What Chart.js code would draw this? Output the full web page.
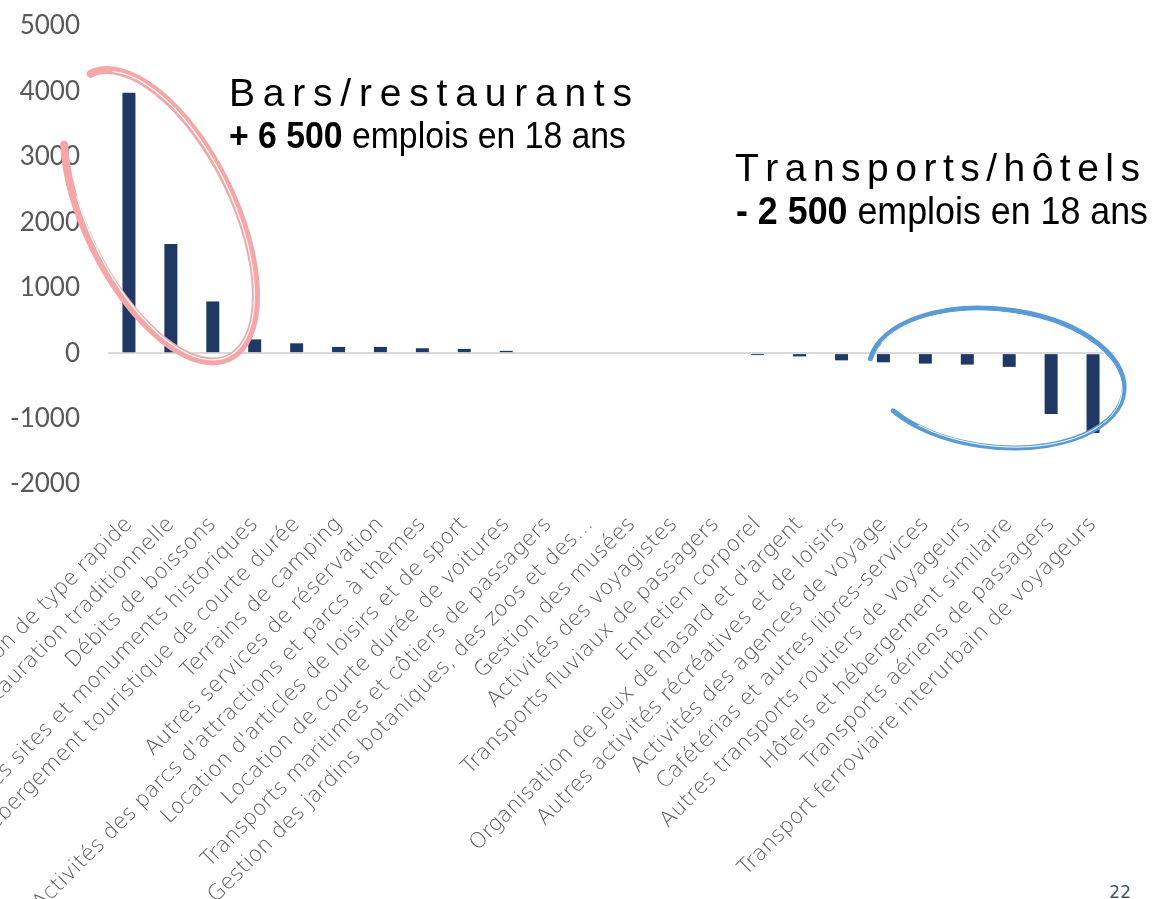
<!DOCTYPE html>
<html><head><meta charset="utf-8">
<style>html,body{margin:0;padding:0;background:#fff;overflow:hidden}#wrap{position:relative;width:1152px;height:899px}</style>
<script src="https://cdn.jsdelivr.net/npm/chart.js@4.4.1/dist/chart.umd.min.js"></script>
</head><body><div id="wrap"><canvas id="c" width="1152" height="899"></canvas></div>
<script>
const categories = [
  "Restauration de type rapide",
  "Restauration traditionnelle",
  "Débits de boissons",
  "Gestion des sites et monuments historiques",
  "Hébergement touristique de courte durée",
  "Terrains de camping",
  "Autres services de réservation",
  "Activités des parcs d'attractions et parcs à thèmes",
  "Location d'articles de loisirs et de sport",
  "Location de courte durée de voitures",
  "Transports maritimes et côtiers de passagers",
  "Gestion des jardins botaniques, des zoos et des…",
  "Gestion des musées",
  "Activités des voyagistes",
  "Transports fluviaux de passagers",
  "Entretien corporel",
  "Organisation de jeux de hasard et d'argent",
  "Autres activités récréatives et de loisirs",
  "Activités des agences de voyage",
  "Cafétérias et autres libres-services",
  "Autres transports routiers de voyageurs",
  "Hôtels et hébergement similaire",
  "Transports aériens de passagers",
  "Transport ferroviaire interurbain de voyageurs"
];
const emploisVariation = [3980, 1670, 790, 210, 150, 95, 95, 75, 65, 35, 0, 0, 0, 0, 0, -30, -50, -110, -140, -160, -175, -210, -930, -1220];
const yMin = -2000, yMax = 5000, yStep = 1000;
const annotLeft = { title: "Bars/restaurants", bold: "+ 6 500", rest: " emplois en 18 ans" };
const annotRight = { title: "Transports/hôtels", bold: "- 2 500", rest: " emplois en 18 ans" };
const pageNumber = "22";

const overlay = {
  id: 'overlay',
  afterDatasetsDraw(chart) {
    const ctx = chart.ctx;
    const xs = chart.scales.x, ys = chart.scales.y;
    const step = xs.getPixelForValue(1) - xs.getPixelForValue(0);
    const x0 = xs.getPixelForValue(0);
    ctx.save();
    function stroke(cx, cy, rx, ry, rot, a0, a1, color, w) {
      ctx.beginPath();
      ctx.ellipse(cx, cy, rx, ry, rot, a0, a1, false);
      ctx.strokeStyle = color; ctx.lineWidth = w; ctx.lineCap = 'round'; ctx.stroke();
    }
    const d = Math.PI / 180;
    // pink hand-drawn ellipse around the first bars
    const pcx = x0 + step * 0.74, pcy = ys.getPixelForValue(2100);
    stroke(pcx, pcy, 158, 74, 64 * d, 180 * d, 492 * d, '#F4A6A8', 8);
    stroke(pcx + 1, pcy, 156, 72, 64.5 * d, 195 * d, 470 * d, '#FFFFFF', 1.2);
    // blue hand-drawn ellipse around the last bars
    const bcx = x0 + step * 20.7, bcy = ys.getPixelForValue(-380);
    stroke(bcx, bcy, 128, 69, 6 * d, 185 * d, 501 * d, '#5B9BD5', 5);
    stroke(bcx, bcy + 1, 126, 67, 6.5 * d, 200 * d, 485 * d, '#FFFFFF', 1);

    ctx.fillStyle = '#000000';
    ctx.textBaseline = 'alphabetic';
    ctx.textAlign = 'left';
    // draw a run of [text, font] pieces spread to a target width
    function runs(pieces, x, y, target) {
      const glyphs = [];
      pieces.forEach(([t, f]) => { ctx.font = f; Array.from(t).forEach(c => glyphs.push([c, f, ctx.measureText(c).width])); });
      const w = glyphs.reduce((s, g) => s + g[2], 0);
      let sp = (target - w) / (glyphs.length - 1);
      let k = 1;
      if (sp < 0) { k = target / w; sp = 0; }
      ctx.save();
      ctx.translate(x, y); ctx.scale(k, 1);
      let cx = 0;
      glyphs.forEach(([c, f, gw]) => { ctx.font = f; ctx.fillText(c, cx, 0); cx += gw + sp / k; });
      ctx.restore();
    }
    const F = '"Liberation Sans Narrow", "Arial Narrow", "Liberation Sans", sans-serif';
    runs([[annotLeft.title, '39px ' + F]], 229, 106, 403);
    runs([[annotLeft.bold, 'bold 37px ' + F], [annotLeft.rest, '37px ' + F]], 229, 148, 397);
    runs([[annotRight.title, '39px ' + F]], 735, 181, 405);
    runs([[annotRight.bold, 'bold 39px ' + F], [annotRight.rest, '39px ' + F]], 736, 224, 412);

    ctx.font = '17px "DejaVu Sans", sans-serif';
    ctx.fillStyle = '#44546A';
    ctx.textAlign = 'right';
    ctx.fillText(pageNumber, 1131, 898);
    ctx.restore();
  }
};

new Chart(document.getElementById('c'), {
  type: 'bar',
  data: {
    labels: categories,
    datasets: [{
      data: emploisVariation,
      backgroundColor: '#1F3864',
      borderWidth: 0,
      barPercentage: 0.31,
      categoryPercentage: 1
    }]
  },
  options: {
    responsive: false,
    animation: false,
    devicePixelRatio: 1,
    layout: { padding: { top: 26, right: 38, bottom: 0, left: 0 } },
    plugins: { legend: { display: false }, tooltip: { enabled: false } },
    scales: {
      x: {
        grid: { display: false },
        border: { display: false },
        ticks: {
          autoSkip: false, minRotation: 45, maxRotation: 45, padding: 20,
          color: '#595959',
          font: { family: '"DejaVu Sans", sans-serif', size: 21.5, weight: '200' }
        },
        afterFit(s) { s.height = 415; s.paddingLeft = 0; s.paddingRight = 0; }
      },
      y: {
        min: yMin, max: yMax,
        border: { display: false },
        grid: {
          drawTicks: false,
          lineWidth: 2,
          color: c => (c.tick && c.tick.value === 0) ? '#D9D9D9' : 'rgba(0,0,0,0)'
        },
        ticks: {
          stepSize: yStep, padding: 28, color: '#595959',
          font: { family: 'Lato, sans-serif', size: 26, weight: '400' },
          callback: v => String(v)
        },
        afterFit(s) { s.width = 108; s.paddingTop = 0; s.paddingBottom = 0; }
      }
    }
  },
  plugins: [overlay]
});
</script>
</body></html>
